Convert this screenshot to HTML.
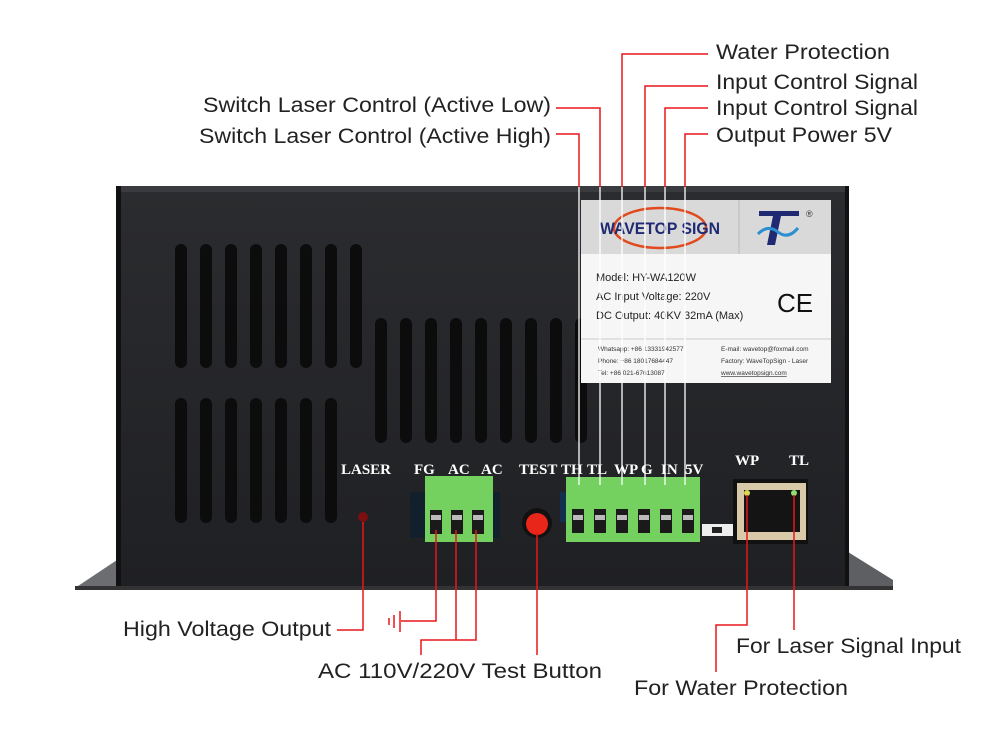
<!DOCTYPE html>
<html><head><meta charset="utf-8"><style>
html,body{margin:0;padding:0;background:#fff;}
svg{display:block;}
.lbl{font-family:"Liberation Sans",sans-serif;font-size:21px;fill:#222;}
.pin{font-family:"Liberation Serif",serif;font-weight:bold;font-size:15px;fill:#fff;}
</style></head><body>
<svg width="1000" height="752" viewBox="0 0 1000 752" xmlns="http://www.w3.org/2000/svg">
<defs>
<linearGradient id="body" x1="0" y1="0" x2="0" y2="1">
<stop offset="0" stop-color="#2b2c2f"/><stop offset="1" stop-color="#1f2023"/>
</linearGradient>
</defs>
<!-- flanges -->
<polygon points="75,588 117,560 117,588" fill="#6b6d70"/>
<polygon points="848,552 893,580 893,590 848,590" fill="#5d5f62"/>
<!-- body -->
<rect x="116" y="186" width="733" height="402" fill="url(#body)"/>
<rect x="116" y="186" width="733" height="6" fill="#3a3b3e"/>
<rect x="116" y="186" width="5" height="402" fill="#111"/>
<rect x="845" y="186" width="4" height="402" fill="#111"/>
<rect x="75" y="586" width="818" height="4" fill="#333"/>
<!-- vents -->
<g fill="#0c0c0d">
<rect x="175" y="244" width="12" height="124" rx="6"/><rect x="200" y="244" width="12" height="124" rx="6"/>
<rect x="225" y="244" width="12" height="124" rx="6"/><rect x="250" y="244" width="12" height="124" rx="6"/>
<rect x="275" y="244" width="12" height="124" rx="6"/><rect x="300" y="244" width="12" height="124" rx="6"/>
<rect x="325" y="244" width="12" height="124" rx="6"/><rect x="350" y="244" width="12" height="124" rx="6"/>
<rect x="175" y="398" width="12" height="125" rx="6"/><rect x="200" y="398" width="12" height="125" rx="6"/>
<rect x="225" y="398" width="12" height="125" rx="6"/><rect x="250" y="398" width="12" height="125" rx="6"/>
<rect x="275" y="398" width="12" height="125" rx="6"/><rect x="300" y="398" width="12" height="125" rx="6"/>
<rect x="325" y="398" width="12" height="125" rx="6"/>
<rect x="375" y="318" width="12" height="125" rx="6"/><rect x="400" y="318" width="12" height="125" rx="6"/>
<rect x="425" y="318" width="12" height="125" rx="6"/><rect x="450" y="318" width="12" height="125" rx="6"/>
<rect x="475" y="318" width="12" height="125" rx="6"/><rect x="500" y="318" width="12" height="125" rx="6"/>
<rect x="525" y="318" width="12" height="125" rx="6"/><rect x="550" y="318" width="12" height="125" rx="6"/>
<rect x="575" y="318" width="12" height="125" rx="6"/>
</g>
<!-- label plate -->
<rect x="581" y="200" width="250" height="183" fill="#f6f6f6"/>
<rect x="581" y="200" width="250" height="54" fill="#d9d9d9"/>
<line x1="739" y1="200" x2="739" y2="254" stroke="#bbb"/>
<line x1="581" y1="339" x2="831" y2="339" stroke="#ccc"/>
<ellipse cx="660" cy="228" rx="46" ry="20" fill="none" stroke="#e2491c" stroke-width="2.5"/>
<text x="600" y="234" font-family="Liberation Sans,sans-serif" font-weight="bold" font-size="17" fill="#1f2a72" textLength="120" lengthAdjust="spacingAndGlyphs">WAVETOP SIGN</text>
<rect x="759" y="211" width="40" height="5" fill="#1f2a72"/>
<polygon points="773,216 781,216 775,245 767,245" fill="#1f2a72"/>
<path d="M758 234 q10 -10 20 -2 q10 8 20 -4" stroke="#2b8fd0" stroke-width="3" fill="none"/>
<text x="806" y="217" font-family="Liberation Sans,sans-serif" font-size="9" fill="#333">®</text>
<g font-family="Liberation Sans,sans-serif" font-size="11" fill="#222">
<text x="596" y="281">Model: HY-WA120W</text>
<text x="596" y="300">AC Input Voltage: 220V</text>
<text x="596" y="319">DC Output: 40KV 32mA (Max)</text>
</g>
<text x="777" y="312" font-family="Liberation Sans,sans-serif" font-size="26" fill="#111">CE</text>
<g font-family="Liberation Sans,sans-serif" font-size="6.5" fill="#333">
<text x="598" y="351">Whatsapp: +86 13331942577</text>
<text x="598" y="363">Phone: +86 18017684447</text>
<text x="598" y="375">Tel: +86 021-67613087</text>
<text x="721" y="351">E-mail: wavetop@foxmail.com</text>
<text x="721" y="363">Factory: WaveTopSign - Laser</text>
<text x="721" y="375" text-decoration="underline">www.wavetopsign.com</text>
</g>
<!-- pin labels -->
<text class="pin" x="341" y="474">LASER</text>
<text class="pin" x="414" y="474">FG</text>
<text class="pin" x="448" y="474">AC</text>
<text class="pin" x="481" y="474">AC</text>
<text class="pin" x="519" y="474">TEST</text>
<text class="pin" x="561" y="474">TH</text>
<text class="pin" x="587" y="474">TL</text>
<text class="pin" x="614" y="474">WP</text>
<text class="pin" x="641" y="474">G</text>
<text class="pin" x="661" y="474">IN</text>
<text class="pin" x="685" y="474">5V</text>
<text class="pin" x="735" y="465">WP</text>
<text class="pin" x="789" y="465">TL</text>
<!-- LED -->
<circle cx="363" cy="517" r="5" fill="#7a1010"/>
<!-- terminal block 1 -->
<rect x="410" y="492" width="90" height="46" fill="#12202e"/>
<rect x="425" y="476" width="68" height="66" fill="#74d160"/>
<g fill="#1a1a1a"><rect x="430" y="510" width="12" height="24"/><rect x="451" y="510" width="12" height="24"/><rect x="472" y="510" width="12" height="24"/></g>
<g fill="#bbb"><rect x="431" y="515" width="10" height="5"/><rect x="452" y="515" width="10" height="5"/><rect x="473" y="515" width="10" height="5"/></g>
<!-- button -->
<circle cx="537" cy="523" r="15" fill="#111"/>
<circle cx="537" cy="524" r="11" fill="#e8261a"/>
<!-- terminal block 2 -->
<rect x="560" y="492" width="12" height="30" fill="#12304e"/>
<rect x="566" y="477" width="134" height="65" fill="#74d160"/>
<g fill="#1a1a1a"><rect x="572" y="509" width="12" height="24"/><rect x="594" y="509" width="12" height="24"/><rect x="616" y="509" width="12" height="24"/><rect x="638" y="509" width="12" height="24"/><rect x="660" y="509" width="12" height="24"/><rect x="682" y="509" width="12" height="24"/></g>
<g fill="#bbb"><rect x="573" y="515" width="10" height="5"/><rect x="595" y="515" width="10" height="5"/><rect x="617" y="515" width="10" height="5"/><rect x="639" y="515" width="10" height="5"/><rect x="661" y="515" width="10" height="5"/><rect x="683" y="515" width="10" height="5"/></g>
<rect x="702" y="524" width="32" height="12" fill="#eee"/><rect x="712" y="527" width="10" height="6" fill="#222"/>
<!-- RJ45 -->
<rect x="733" y="479" width="75" height="65" fill="#111"/>
<rect x="737" y="483" width="69" height="57" fill="#d8c9a8"/>
<rect x="744" y="490" width="56" height="42" fill="#141414"/>
<circle cx="747" cy="493" r="3" fill="#dada50"/><circle cx="794" cy="493" r="3" fill="#8fe070"/>
<!-- connectors top: white inside device, red outside -->
<g stroke="#fff" stroke-width="1.3">
<line x1="579" y1="187" x2="579" y2="485"/><line x1="600" y1="187" x2="600" y2="485"/>
<line x1="622" y1="187" x2="622" y2="485"/><line x1="645" y1="187" x2="645" y2="485"/>
<line x1="665" y1="187" x2="665" y2="485"/><line x1="685" y1="187" x2="685" y2="485"/>
</g>
<g stroke="#e8161a" stroke-width="1.5" fill="none">
<polyline points="708,54 622,54 622,187"/>
<polyline points="708,86 645,86 645,187"/>
<polyline points="708,108 665,108 665,187"/>
<polyline points="708,134 685,134 685,187"/>
<polyline points="556,108 600,108 600,187"/>
<polyline points="556,134 579,134 579,187"/>
<!-- bottom -->
<polyline points="363,522 363,630 337,630"/>
<polyline points="436,530 436,621 401,621"/>
<polyline points="456,530 456,640"/>
<polyline points="476,530 476,640 421,640 421,655"/>
<line x1="537" y1="532" x2="537" y2="655"/>
<polyline points="747,495 747,625 716,625 716,672"/>
<line x1="794" y1="495" x2="794" y2="630"/>
<line x1="400" y1="611" x2="400" y2="632"/>
<line x1="394" y1="615" x2="394" y2="628"/>
<line x1="389" y1="618" x2="389" y2="625"/>
</g>
<!-- labels -->
<text class="lbl" x="716" y="59" textLength="174" lengthAdjust="spacingAndGlyphs">Water Protection</text>
<text class="lbl" x="716" y="89" textLength="202" lengthAdjust="spacingAndGlyphs">Input Control Signal</text>
<text class="lbl" x="716" y="115" textLength="202" lengthAdjust="spacingAndGlyphs">Input Control Signal</text>
<text class="lbl" x="716" y="142" textLength="176" lengthAdjust="spacingAndGlyphs">Output Power 5V</text>
<text class="lbl" x="203" y="112" textLength="348" lengthAdjust="spacingAndGlyphs">Switch Laser Control (Active Low)</text>
<text class="lbl" x="199" y="143" textLength="352" lengthAdjust="spacingAndGlyphs">Switch Laser Control (Active High)</text>
<text class="lbl" x="123" y="636" textLength="208" lengthAdjust="spacingAndGlyphs">High Voltage Output</text>
<text class="lbl" x="318" y="678" textLength="284" lengthAdjust="spacingAndGlyphs">AC 110V/220V Test Button</text>
<text class="lbl" x="736" y="653" textLength="225" lengthAdjust="spacingAndGlyphs">For Laser Signal Input</text>
<text class="lbl" x="634" y="695" textLength="214" lengthAdjust="spacingAndGlyphs">For Water Protection</text>
</svg>
</body></html>
